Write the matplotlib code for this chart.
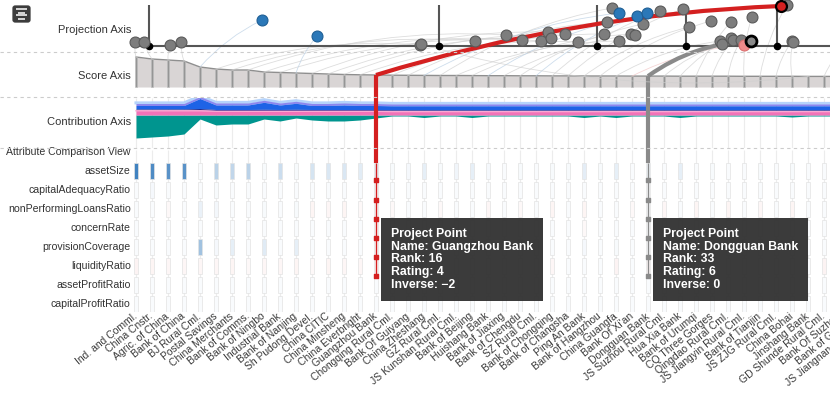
import numpy as np
import matplotlib
matplotlib.use("Agg")
import matplotlib.pyplot as plt
from matplotlib.patches import ConnectionPatch, FancyBboxPatch
from matplotlib.lines import Line2D
from matplotlib.colors import to_rgb
from matplotlib.transforms import blended_transform_factory, ScaledTranslation

plt.rcParams['font.family'] = ['Liberation Sans', 'DejaVu Sans']

# ---------------- data ----------------
banks = ["Ind. and Comml.", "China Cnstr.", "Agric. of China", "Bank of China", "BJ Rural Cml.",
         "Postal Savings", "China Merchants", "Bank of Comms.", "Bank of Ningbo", "Industrial Bank",
         "Bank of Nanjing", "Sh Pudong Devel.", "China CITIC", "China Minsheng", "China Everbright",
         "Guangzhou Bank", "Chongqing Rural Cml.", "Bank Of Guiyang", "China Zheshang", "GZ Rural Cml.",
         "JS Kunshan Rural Cml.", "Bank of Beijing", "Huishang Bank", "Bank of Jiaxing", "Bank of Chengdu",
         "SZ Rural Cml.", "Bank of Chongqing", "Bank of Changsha", "Ping An Bank", "Bank of Hangzhou",
         "China Guangfa", "Bank Of Xi'an", "Dongguan Bank", "JS Suzhou Rural Cml.", "Hua Xia Bank",
         "Bank of Urumqi", "CQ Three Gorges", "Qingdao Rural Cml.", "JS Jiangyin Rural Cml.", "Bank of Tianjin",
         "JS ZJG Rural Cml.", "China Bohai", "Jinshang Bank", "GD Shunde Rural Cml.", "Bank Of Suzhou",
         "Bank of Guizhou", "JS Jiangnan Rural Cml."]

scores = [30, 28, 27, 26, 20, 18, 17, 17, 15, 14.5, 14, 13.5, 13, 12.5, 12.2, 12,
          11.8, 11.7, 11.6, 11.5, 11.5, 11.4, 11.3, 11.3, 11.2, 11.2, 11.1, 11.1, 11.0, 11.0, 11.0,
          10.9, 10.9, 10.9, 10.8, 10.8, 10.8, 10.8, 10.7, 10.7, 10.7, 10.7, 10.6, 10.6, 10.6, 10.6, 10.5]

proj_value = [-0.06, 0.5, 2.13, 2.81, 7.88, 17.75, 21.19, 23.13, 24.13, 25.31,
              11.31, 25.75, 25.94, 26.81, 27.63, 40.31, 29.25, 29.44, 30.19, 29.75,
              30.19, 30.94, 31.31, 31.19, 31.69, 31.94, 32.75, 34.19, 34.56, 35.94,
              36.5, 38.0, 38.44, 36.63, 37.19, 37.19, 37.31, 37.81, 38.5, 40.69,
              41.0, 41.06, 17.81, 44.6, 45.25, 45.9, 46.5]
proj_offset = [4, 4, 1, 4, 26, 1, 5, 11, 6, 5,
               10, 14, 8, 12, 4, 40, 12, 24, 33, 38,
               5, 12, 30, 11, 22, 33, 35, 37, 19, 25,
               5, 1, 5, 2, 8, 24, 6, 6, 29, 41,
               5, 4, 2, 6, 16, 26, 3]
proj_state = ["n", "n", "n", "n", "up", "n", "n", "n", "n", "n",
              "up", "n", "n", "n", "n", "sel", "n", "n", "up", "n",
              "n", "n", "up", "n", "n", "up", "n", "n", "n", "n",
              "n", "down", "hover", "n", "n", "n", "n", "n", "n", "n",
              "n", "n", "n", "n", "n", "n", "n"]
rating_cuts = [0.81, 18.94, 28.81, 34.38, 40.06]
rating_tick_height = 41

contrib_asset = [23, 22, 21, 19, 4, 10, 9, 9, 4, 6, 3, 5, 6, 6, 5, 3,
                 1, 1, 2.5, 1, 1, 2.5, 1, 1, 1, 1, 1, 1, 2.5, 1, 2.5, 1, 1, 1, 2.5, 1,
                 1, 1, 1, 1, 1, 2, 1, 1, 1, 1, 1]
contrib_pink = [5, 5, 5, 5, 5, 4.5, 4.5, 4.5, 4.5, 4.5, 4.5, 4.5, 4.5, 4.5, 4.5, 4.5,
                4.2, 4.2, 4.2, 4.2, 4.2, 4.2, 4.2, 4.2, 4.2, 4.2, 4.2, 4.2, 4.2, 4.2, 4.2, 4.2,
                4.2, 4.2, 4.2, 4.2, 4.2, 4.2, 4.2, 4.2, 4.2, 4.2, 4.2, 4.2, 4.2, 4.2, 4.2]
contrib_navy = [1, 1, 1, 1, 1.5, 1, 1, 1, 1.2, 1, 1.2, 1, 1, 1, 1, 1,
                1, 1, 1, 1, 1, 1, 1, 1, 1, 1, 1, 1, 1, 1, 1, 1,
                1, 1, 1, 1, 1, 1, 1, 1, 1, 1, 1, 1, 1, 1, 1]
contrib_blue = [3.5, 3.5, 3.5, 3.5, 10, 4.5, 4.5, 4.5, 7, 4.5, 6, 4, 4, 4.5, 4, 4,
                4, 4, 4, 4, 4, 4, 4, 4, 4, 4, 4, 4, 4, 4, 4, 4,
                4, 4, 4, 4, 4, 4, 4, 4, 4, 4, 4, 4, 4, 4, 4]
contrib_lav = [2, 2, 2, 2, 2, 2, 2, 2, 2, 2, 2, 2, 2, 2, 2, 2,
               1.8, 1.8, 1.8, 1.8, 1.8, 1.8, 1.8, 1.8, 1.8, 1.8, 1.8, 1.8, 1.8, 1.8, 1.8, 1.8,
               1.8, 1.8, 1.8, 1.8, 1.8, 1.8, 1.8, 1.8, 1.8, 1.8, 1.8, 1.8, 1.8, 1.8, 1.8]

attributes = ["assetSize", "capitalAdequacyRatio", "nonPerformingLoansRatio", "concernRate",
              "provisionCoverage", "liquidityRatio", "assetProfitRatio", "capitalProfitRatio"]
attr_assetSize = [0.92, 0.85, 0.8, 0.8, 0.03, 0.33, 0.3, 0.33, 0.04, 0.25, 0.04, 0.2, 0.18, 0.18, 0.14, 0.12,
                  0.04, 0.05, 0.12, 0.04, 0.07, 0.12, 0.05, 0.03, 0.04, 0.03, 0.04, 0.04, 0.13, 0.04, 0.12,
                  0.03, 0.08, 0.03, 0.12, 0.03, 0.04, 0.03, 0.03, 0.04, 0.03, 0.04, 0.03, 0.03, 0.03, 0.03, 0.03]
attr_capitalAdequacy = [0.03, 0.05, 0.03, 0.03, 0.03, 0.04, 0.03, 0.03, 0.03, 0.03, 0.03, 0.03, 0.03, 0.03, 0.03, 0.03,
                        0.03, 0.03, 0.03, 0.03, 0.03, 0.03, 0.03, 0.03, 0.03, 0.03, 0.03, 0.03, 0.03, 0.03, 0.03,
                        0.03, 0.03, 0.03, 0.03, 0.03, 0.03, 0.03, 0.03, 0.03, 0.03, 0.03, 0.03, 0.03, 0.03, 0.03, 0.03]
attr_nonPerforming = [0.03, 0.03, -0.04, 0.03, 0.1, 0.06, 0.03, 0.03, 0.04, 0.03, 0.04, -0.06, -0.05, -0.06, -0.04, 0.03,
                      -0.04, 0.03, 0.03, -0.04, 0.03, 0.03, -0.05, 0.03, -0.04, 0.03, -0.06, 0.03, -0.06, 0.03, 0.03,
                      -0.04, 0.03, -0.05, 0.03, -0.06, 0.03, -0.06, 0.03, -0.05, 0.03, -0.06, 0.03, 0.03, -0.04, 0.03, 0.03]
attr_concern = [0.03, 0.03, 0.03, 0.03, 0.03, 0.03, 0.03, 0.03, 0.03, 0.03, 0.03, 0.03, 0.03, 0.03, 0.03, 0.03,
                0.03, 0.03, 0.03, 0.03, 0.03, 0.03, 0.03, -0.04, 0.03, 0.03, 0.03, 0.03, -0.04, 0.03, 0.03,
                0.03, 0.03, 0.03, 0.03, 0.03, 0.03, -0.04, 0.03, 0.03, 0.03, 0.03, 0.03, 0.03, 0.03, 0.03, 0.03]
attr_provision = [0.03, 0.03, 0.03, 0.03, 0.45, 0.05, 0.12, 0.03, 0.15, 0.03, 0.12, 0.03, 0.03, 0.03, 0.03, 0.03,
                  0.03, 0.03, 0.04, 0.03, 0.03, 0.04, 0.03, 0.03, 0.03, 0.03, 0.03, 0.03, 0.05, 0.03, 0.04,
                  0.03, 0.03, 0.03, 0.03, 0.03, 0.03, 0.03, 0.03, 0.03, 0.03, 0.03, 0.03, 0.03, 0.03, 0.03, 0.03]
attr_liquidity = [-0.07, -0.06, -0.05, -0.05, -0.05, -0.05, -0.06, -0.04, -0.05, -0.05, -0.06, -0.04, -0.06, -0.05, -0.05, -0.05,
                  0.03, -0.05, 0.03, -0.05, 0.03, 0.03, -0.04, 0.03, 0.03, 0.03, -0.05, 0.03, 0.03, 0.03, -0.07,
                  0.03, -0.05, -0.07, 0.03, 0.03, -0.05, 0.03, -0.07, 0.03, 0.03, -0.05, 0.03, -0.07, 0.03, 0.03, 0.03]
attr_assetProfit = [0.03, 0.03, 0.03, 0.03, 0.03, 0.03, 0.03, 0.03, 0.03, 0.03, 0.03, 0.03, 0.03, 0.03, 0.03, 0.03,
                    0.03, 0.03, 0.03, 0.03, 0.03, 0.03, 0.03, 0.03, 0.03, 0.03, 0.03, 0.03, 0.03, 0.03, 0.03,
                    0.03, 0.03, 0.03, 0.03, 0.03, 0.03, 0.03, 0.03, 0.03, 0.03, 0.03, 0.03, 0.03, 0.03, 0.03, 0.03]
attr_capitalProfit = [0.03, 0.03, 0.03, 0.03, 0.03, 0.03, 0.03, 0.03, 0.03, 0.03, 0.03, 0.03, 0.03, 0.03, 0.03, 0.03,
                      0.03, 0.03, 0.03, 0.03, 0.03, 0.03, 0.03, 0.03, 0.03, 0.03, 0.03, 0.03, 0.03, 0.03, 0.03,
                      0.03, 0.03, 0.03, 0.03, 0.03, 0.03, 0.03, 0.03, 0.03, 0.03, 0.03, 0.03, 0.03, 0.03, 0.03, 0.03]
attr_values = [attr_assetSize, attr_capitalAdequacy, attr_nonPerforming, attr_concern,
               attr_provision, attr_liquidity, attr_assetProfit, attr_capitalProfit]

selected_name = "Guangzhou Bank"
selected_info = {"Rank": 16, "Rating": 4, "Inverse": "\u22122"}
hover_name = "Dongguan Bank"
hover_info = {"Rank": 33, "Rating": 6, "Inverse": "0"}

# ---------------- layout ----------------
W, H = 830, 394
col0_px, col_px = 136, 16
cols = np.arange(len(banks))
xlim = (-col0_px / col_px, (W - col0_px) / col_px)

fig = plt.figure(figsize=(W / 100, H / 100), dpi=100)
fig.patch.set_facecolor("white")


def band(top, bottom):
    ax = fig.add_axes([0, 1 - bottom / H, 1, (bottom - top) / H])
    ax.set_xlim(*xlim)
    ax.set_facecolor("none")
    return ax


ax_attr = band(150, 312)
ax_con = band(98, 148)
ax_score = band(52, 97)
ax_proj = band(0, 52)

TXT = "#333333"
FS = 8
FS_LEFT = 7.6
FS_TICK = 7.5
LABEL_X = -0.33  # right edge of left-hand labels, in column units

# ---------- attribute view ----------
ax_attr.set_ylim(7.42, -1.105)
ax_attr.axis("off")
ax_attr.vlines(cols, -1.105, 7.42, color="#ececec", lw=0.8, zorder=0)
blue_rgb = np.array(to_rgb("#2f77ba"))
red_rgb = np.array(to_rgb("#d9534f"))
white = np.ones(3)


def cell_color(v):
    a = min(1.0, abs(v))
    base = blue_rgb if v >= 0 else red_rgb
    return tuple(white * (1 - a) + base * a)


for k, row in enumerate(attr_values):
    ax_attr.bar(cols, 0.84, bottom=k - 0.42, width=0.28,
                color=[cell_color(v) for v in row], edgecolor="#e3e3e3", lw=0.5, zorder=2)
    ax_attr.text(LABEL_X, k, attributes[k], ha="right", va="center", fontsize=FS_LEFT, color=TXT)
ax_attr.text(LABEL_X, -1.0, "Attribute Comparison View", ha="right", va="center", fontsize=FS_LEFT, color=TXT)

# bank names (rotated), drawn as text so names of columns just past the edge still show
name_tr = blended_transform_factory(ax_attr.transData, ax_attr.transAxes) + \
    ScaledTranslation(0, -3 / 100, fig.dpi_scale_trans)
for i, name in enumerate(banks):
    ax_attr.text(i, 0, name, transform=name_tr, rotation=39, ha="right", va="center",
                 rotation_mode="anchor", fontsize=FS_TICK, color="#3a3a3a", clip_on=False)
ax_attr.set_xlim(*xlim)

# ---------- contribution axis ----------
ax_con.set_ylim(-33, 17)
ax_con.axis("off")
ax_con.vlines(cols, -33, 17, color="#ececec", lw=0.8, zorder=0)
teal = np.array(contrib_asset, float)
p1 = np.array(contrib_pink, float)
p2 = p1 + np.array(contrib_navy, float)
p3 = p2 + np.array(contrib_blue, float)
p4 = p3 + np.array(contrib_lav, float)
ax_con.fill_between(cols, 0, -teal, color="#00958f", lw=0, zorder=2)
ax_con.plot(cols, p4 + 0.6, color="#b5d3fb", lw=2.2, zorder=1.5)
ax_con.fill_between(cols, p3, p4, color="#8d86ee", lw=0, zorder=2)
ax_con.fill_between(cols, p2, p3, color="#1e63e6", lw=0, zorder=2)
ax_con.fill_between(cols, p1, p2, color="#1d2a8f", lw=0, zorder=2)
ax_con.fill_between(cols, 0, p1, color="#f272b8", lw=0, zorder=2)
ax_con.plot(cols, p1 - 0.8, color="#f9a9d2", lw=1.0, zorder=2.5)
ax_con.set_xlim(*xlim)

# ---------- score axis ----------
ax_score.set_ylim(-10, 35)
ax_score.axis("off")
ax_score.fill_between(cols, 0, scores, color="#d9d5d5", lw=0, zorder=1)
ax_score.plot(cols, scores, color="#8f8f8f", lw=1.0, zorder=2)
ax_score.bar(cols, scores, width=0.17, color="#959595", edgecolor="#bdbdbd", lw=0.4, zorder=2)
ax_score.set_xlim(*xlim)

# ---------- projection axis ----------
ax_proj.set_ylim(-6, 46)
ax_proj.axis("off")
ax_proj.hlines(0, proj_value[0], xlim[1] + 5, color="#555555", lw=1.5, zorder=2)
ax_proj.vlines(rating_cuts, 0, rating_tick_height, color="#555555", lw=1.5, zorder=2)
ax_proj.scatter(rating_cuts, [0] * len(rating_cuts), s=20, color="black", zorder=3, clip_on=False)

curve_col = {"n": "#cfcfcf", "up": "#b9cfe4", "down": "#f2c4c4", "sel": "#cfcfcf", "hover": "#cfcfcf"}
for i in cols:
    if banks[i] in (selected_name, hover_name):
        continue
    con = ConnectionPatch(xyA=(i, scores[i]), coordsA=ax_score.transData,
                          xyB=(proj_value[i], proj_offset[i]), coordsB=ax_proj.transData,
                          connectionstyle="arc3,rad=-0.1", arrowstyle="-",
                          color=curve_col[proj_state[i]], lw=0.6, alpha=0.7, shrinkA=0, shrinkB=0)
    ax_proj.add_artist(con)
    con.set_clip_on(False)
    con.set_zorder(1)

sel = banks.index(selected_name)
hov = banks.index(hover_name)
for idx, color, rad in [(sel, "#d42020", -0.065), (hov, "#8a8a8a", -0.15)]:
    con = ConnectionPatch(xyA=(idx, scores[idx]), coordsA=ax_score.transData,
                          xyB=(proj_value[idx], proj_offset[idx]), coordsB=ax_proj.transData,
                          connectionstyle=f"arc3,rad={rad}", arrowstyle="-",
                          color=color, lw=3, shrinkA=0, shrinkB=0, capstyle="butt")
    ax_proj.add_artist(con)
    con.set_clip_on(False)
    con.set_zorder(2.5)
    v = ConnectionPatch(xyA=(idx, scores[idx]), coordsA=ax_score.transData,
                        xyB=(idx, -0.42), coordsB=ax_attr.transData, arrowstyle="-",
                        color=color, lw=3, shrinkA=0, shrinkB=0, capstyle="butt")
    ax_score.add_artist(v)
    v.set_clip_on(False)
    v.set_zorder(5)
    ax_attr.vlines(idx, -0.42, 5.6, color=color, lw=1.0, zorder=4)
    ax_attr.scatter([idx] * 6, np.arange(6) + 0.5, marker="s", s=5, color=color, zorder=4)

styles = {
    "n": dict(fc="#7d7d7d", ec="#5a5a5a", lw=0.8),
    "up": dict(fc="#2b78b8", ec="#1f5f95", lw=0.8),
    "down": dict(fc="#f08a8a", ec="#dd7070", lw=0.8),
    "sel": dict(fc="#d42020", ec="black", lw=1.6),
    "hover": dict(fc="#8a8a8a", ec="black", lw=2.0),
}
pv = np.array(proj_value)
po = np.array(proj_offset)
st = np.array(proj_state)
for key, sty in styles.items():
    m = st == key
    ax_proj.scatter(pv[m], po[m], s=62, facecolor=sty["fc"], edgecolor=sty["ec"],
                    linewidth=sty["lw"], zorder=4 if key in ("n", "up", "down") else 5, clip_on=False)
ax_proj.set_xlim(*xlim)

# ---------- left labels ----------
for txt, ypx in [("Projection Axis", 30), ("Score Axis", 76), ("Contribution Axis", 122)]:
    fig.text(131 / W, 1 - ypx / H, txt, ha="right", va="center", fontsize=FS, color=TXT)

# dashed band separators
for ypx in (52, 97, 148):
    fig.add_artist(Line2D([0, 1], [1 - ypx / H] * 2, transform=fig.transFigure,
                          ls=(0, (3, 3)), color="#cccccc", lw=0.8, zorder=0.5))

# ---------- tooltips ----------
for idx, info, name in [(sel, selected_info, selected_name), (hov, hover_info, hover_name)]:
    lines = ["Project Point", f"Name: {name}"] + [f"{k}: {v}" for k, v in info.items()]
    fig.text(idx + 0.94, 3.0, "\n".join(lines), transform=ax_attr.transData,
             ha="left", va="top", fontsize=8.8, fontweight="bold", color="white", linespacing=1.08,
             zorder=20,
             bbox=dict(boxstyle="square,pad=0.8", fc="#333333", ec="none", alpha=0.96))

# ---------- menu icon ----------
ax_ic = fig.add_axes([12 / W, 1 - 23 / H, 19 / W, 18 / H])
ax_ic.set_xlim(0, 1)
ax_ic.set_ylim(0, 1)
ax_ic.axis("off")
ax_ic.add_patch(FancyBboxPatch((0.02, 0.02), 0.96, 0.96, boxstyle="round,pad=0,rounding_size=0.15",
                               fc="#3c3c3c", ec="none"))
for y, x0, x1 in [(0.76, 0.22, 0.78), (0.58, 0.3, 0.7), (0.42, 0.22, 0.78), (0.24, 0.3, 0.7)]:
    ax_ic.plot([x0, x1], [y, y], color="white", lw=1.1, solid_capstyle="butt")

fig.savefig("out.png", dpi=100)
